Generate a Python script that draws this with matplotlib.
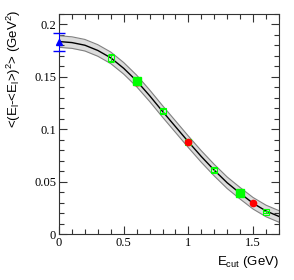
import matplotlib
matplotlib.use("Agg")
import matplotlib.pyplot as plt
from matplotlib.ticker import MultipleLocator, FormatStrFormatter
import numpy as np

plt.rcParams["mathtext.fontset"] = "custom"
plt.rcParams["mathtext.rm"] = "Liberation Sans"
plt.rcParams["mathtext.it"] = "Liberation Sans:italic"

# Fit curve
curve_x = [0.0, 0.1, 0.2, 0.3, 0.4, 0.5, 0.6, 0.7, 0.8, 0.9, 1.0, 1.1, 1.2, 1.3, 1.4, 1.5, 1.6, 1.7]
curve_y = [0.1835, 0.1825, 0.1800, 0.1750, 0.1680, 0.1580, 0.1460, 0.1320, 0.1170, 0.1025,
           0.0880, 0.0740, 0.0610, 0.0490, 0.0390, 0.0295, 0.0222, 0.0170]
band_half = 0.0055

# Data points
blue_x = [0.0]
blue_y = [0.183]
blue_err = [0.0085]

green_open_x = [0.4, 0.8, 1.0, 1.2, 1.6]
green_open_y = [0.168, 0.117, 0.088, 0.061, 0.021]
green_open_err = [0.004, 0.002, 0.002, 0.002, 0.001]

green_fill_x = [0.6, 1.4]
green_fill_y = [0.146, 0.039]

red_x = [0.6, 1.0, 1.5]
red_y = [0.145, 0.088, 0.0295]
red_err = [0.003, 0.002, 0.001]

fig = plt.figure(figsize=(2.94, 2.80), dpi=100)
ax = fig.add_axes([59/294, 1-234.3/280, (279-59)/294, (234.3-13.7)/280])

cx = np.array(curve_x)
cy = np.array(curve_y)
ax.fill_between(cx, cy - band_half, cy + band_half, color="#dcdcdc", lw=0, zorder=1)
ax.plot(cx, cy - band_half, color="#808080", lw=0.8, zorder=2)
ax.plot(cx, cy + band_half, color="#808080", lw=0.8, zorder=2)
ax.plot(cx, cy, color="black", lw=1.0, zorder=3)

ax.errorbar(green_open_x, green_open_y, yerr=green_open_err, fmt="s", mfc="none",
            mec="#00ff00", color="#00ff00", ms=4, mew=0.8, capsize=2.5, elinewidth=0.7, zorder=4)
ax.errorbar(red_x, red_y, yerr=red_err, fmt="o", color="red", ms=4.5, capsize=2.5,
            elinewidth=0.7, zorder=5)
ax.plot(green_fill_x, green_fill_y, "s", color="#00ff00", ms=5.5, zorder=6)
ax.errorbar(blue_x, blue_y, yerr=blue_err, fmt="^", color="blue", ms=4.5, capsize=4,
            elinewidth=0.7, zorder=7, clip_on=False)

ax.set_xlim(0, 1.7)
ax.set_ylim(0, 0.21)
ax.xaxis.set_major_locator(MultipleLocator(0.5))
ax.xaxis.set_minor_locator(MultipleLocator(0.1))
ax.yaxis.set_major_locator(MultipleLocator(0.05))
ax.yaxis.set_minor_locator(MultipleLocator(0.01))
ax.xaxis.set_major_formatter(FormatStrFormatter("%g"))
ax.yaxis.set_major_formatter(FormatStrFormatter("%g"))

ax.tick_params(which="both", direction="in", top=True, right=True, width=0.8,
               color="#333333")
ax.tick_params(which="major", length=6, labelsize=9, pad=2)
ax.tick_params(which="minor", length=3.5)
for lab in ax.get_xticklabels() + ax.get_yticklabels():
    lab.set_family("Liberation Serif")
for s in ax.spines.values():
    s.set_linewidth(0.8)
    s.set_color("#333333")

fig.text(279/294, 1-262/280, r"E$_{\rm cut}$ (GeV)", ha="right", va="center",
         fontsize=9.5, family="Liberation Sans")
fig.text(14/294, 1-10/280, r"<(E$_{\rm l}$-<E$_{\rm l}$>)$^{2}$> (GeV$^{2}$)", ha="center",
         va="top", rotation=90, fontsize=9.5, family="Liberation Sans")

fig.savefig("out.png", dpi=100)
